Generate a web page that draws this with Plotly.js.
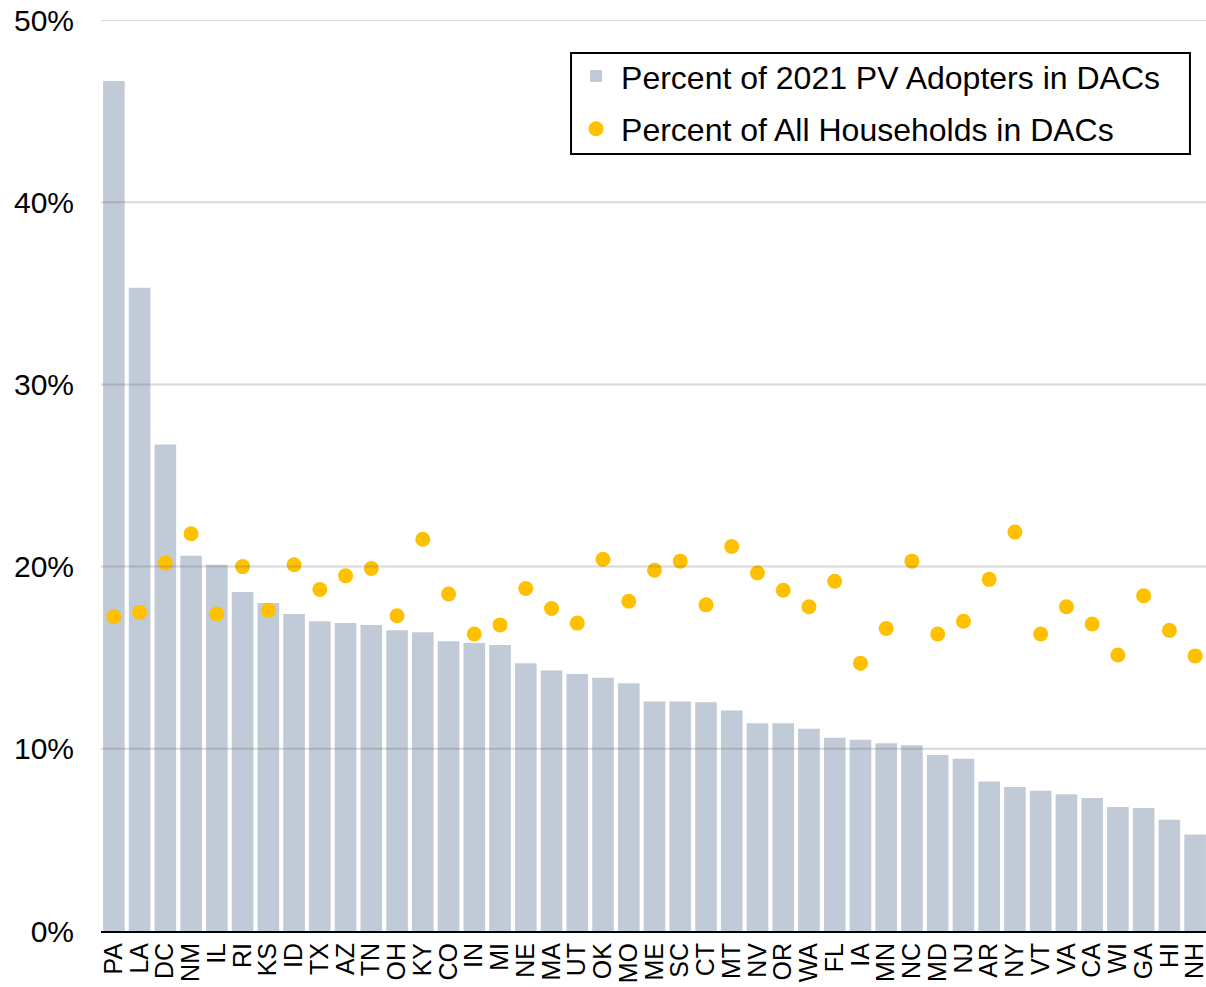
<!DOCTYPE html>
<html>
<head>
<meta charset="utf-8">
<script src="https://cdn.plot.ly/plotly-3.0.1.min.js"></script>
<style>
  html, body { margin: 0; padding: 0; overflow: hidden; background: #fff; }
  #chart { width: 1208px; height: 987px; }
</style>
</head>
<body>
<div id="chart"></div>
<script>
const states = ["PA","LA","DC","NM","IL","RI","KS","ID","TX","AZ","TN","OH","KY","CO","IN","MI","NE","MA","UT","OK","MO","ME","SC","CT","MT","NV","OR","WA","FL","IA","MN","NC","MD","NJ","AR","NY","VT","VA","CA","WI","GA","HI","NH"];

const pvAdoptersInDACs = [46.65,35.3,26.7,20.6,20.1,18.6,18.0,17.4,17.0,16.9,16.8,16.5,16.4,15.9,15.8,15.7,14.7,14.3,14.1,13.9,13.6,12.6,12.6,12.55,12.1,11.4,11.4,11.1,10.6,10.5,10.3,10.2,9.66,9.46,8.2,7.9,7.7,7.5,7.3,6.8,6.75,6.1,5.3];

const householdsInDACs = [17.25,17.5,20.2,21.8,17.4,20.0,17.6,20.1,18.75,19.5,19.9,17.3,21.5,18.5,16.3,16.8,18.8,17.7,16.9,20.4,18.1,19.8,20.3,17.9,21.1,19.65,18.7,17.8,19.2,14.7,16.6,20.3,16.3,17.0,19.3,21.9,16.3,17.8,16.85,15.15,18.4,16.5,15.1];

const yTickVals = [0,10,20,30,40,50];
const yTickText = ["0%","10%","20%","30%","40%","50%"];

const seriesNames = ["Percent of 2021 PV Adopters in DACs","Percent of All Households in DACs"];

const FONT = "'Liberation Sans', Arial, sans-serif";

const traces = [
  {
    type: "bar",
    x: states,
    y: pvAdoptersInDACs,
    name: seriesNames[0],
    marker: { color: "#C1CBD7" },
    legendgroup: "a",
    hoverinfo: "x+y"
  },
  {
    type: "scatter",
    mode: "markers",
    x: states,
    y: householdsInDACs,
    name: seriesNames[1],
    marker: { color: "#FFC000", size: 15 },
    legendgroup: "b",
    hoverinfo: "x+y"
  }
];

const gridShapes = yTickVals.filter(v => v > 0).map(v => ({
  type: "line", xref: "paper", x0: 0, x1: 1, yref: "y", y0: v, y1: v,
  line: { color: "rgba(100,100,100,0.25)", width: 2 },
  layer: "above"
}));

// legend frame
gridShapes.push({
  type: "rect", xref: "paper", yref: "paper",
  x0: 0.4246, x1: 0.9837, y0: 0.8529, y1: 0.9638,
  line: { color: "#000", width: 2 },
  fillcolor: "#fff",
  layer: "above"
});

const layout = {
  width: 1208,
  height: 987,
  margin: { l: 101, r: 0, t: 20, b: 56 },
  paper_bgcolor: "#fff",
  plot_bgcolor: "#fff",
  font: { family: FONT, color: "#000" },
  bargap: 0.16,
  showlegend: true,
  legend: {
    x: 0.4246, xanchor: "left",
    y: 0.9684, yanchor: "top",
    bgcolor: "rgba(0,0,0,0)",
    borderwidth: 0,
    font: { family: FONT, size: 32, color: "#000" },
    itemwidth: 40,
    traceorder: "grouped",
    tracegroupgap: 8
  },
  xaxis: {
    type: "category",
    range: [-0.5, states.length - 0.5],
    tickmode: "array",
    tickvals: states,
    ticktext: states,
    tickangle: -90,
    tickfont: { family: FONT, size: 25, color: "#000" },
    showline: true,
    linecolor: "#000",
    linewidth: 2,
    showgrid: false,
    ticks: "",
    zeroline: false,
    fixedrange: true
  },
  yaxis: {
    range: [0, 50],
    tickvals: yTickVals,
    ticktext: yTickText,
    tickfont: { family: FONT, size: 30, color: "#000" },
    showgrid: false,
    zeroline: false,
    showline: false,
    ticks: "",
    ticklabelstandoff: 26,
    fixedrange: true
  },
  shapes: gridShapes
};

Plotly.newPlot("chart", traces, layout, { displayModeBar: false, staticPlot: true });
</script>
</body>
</html>
